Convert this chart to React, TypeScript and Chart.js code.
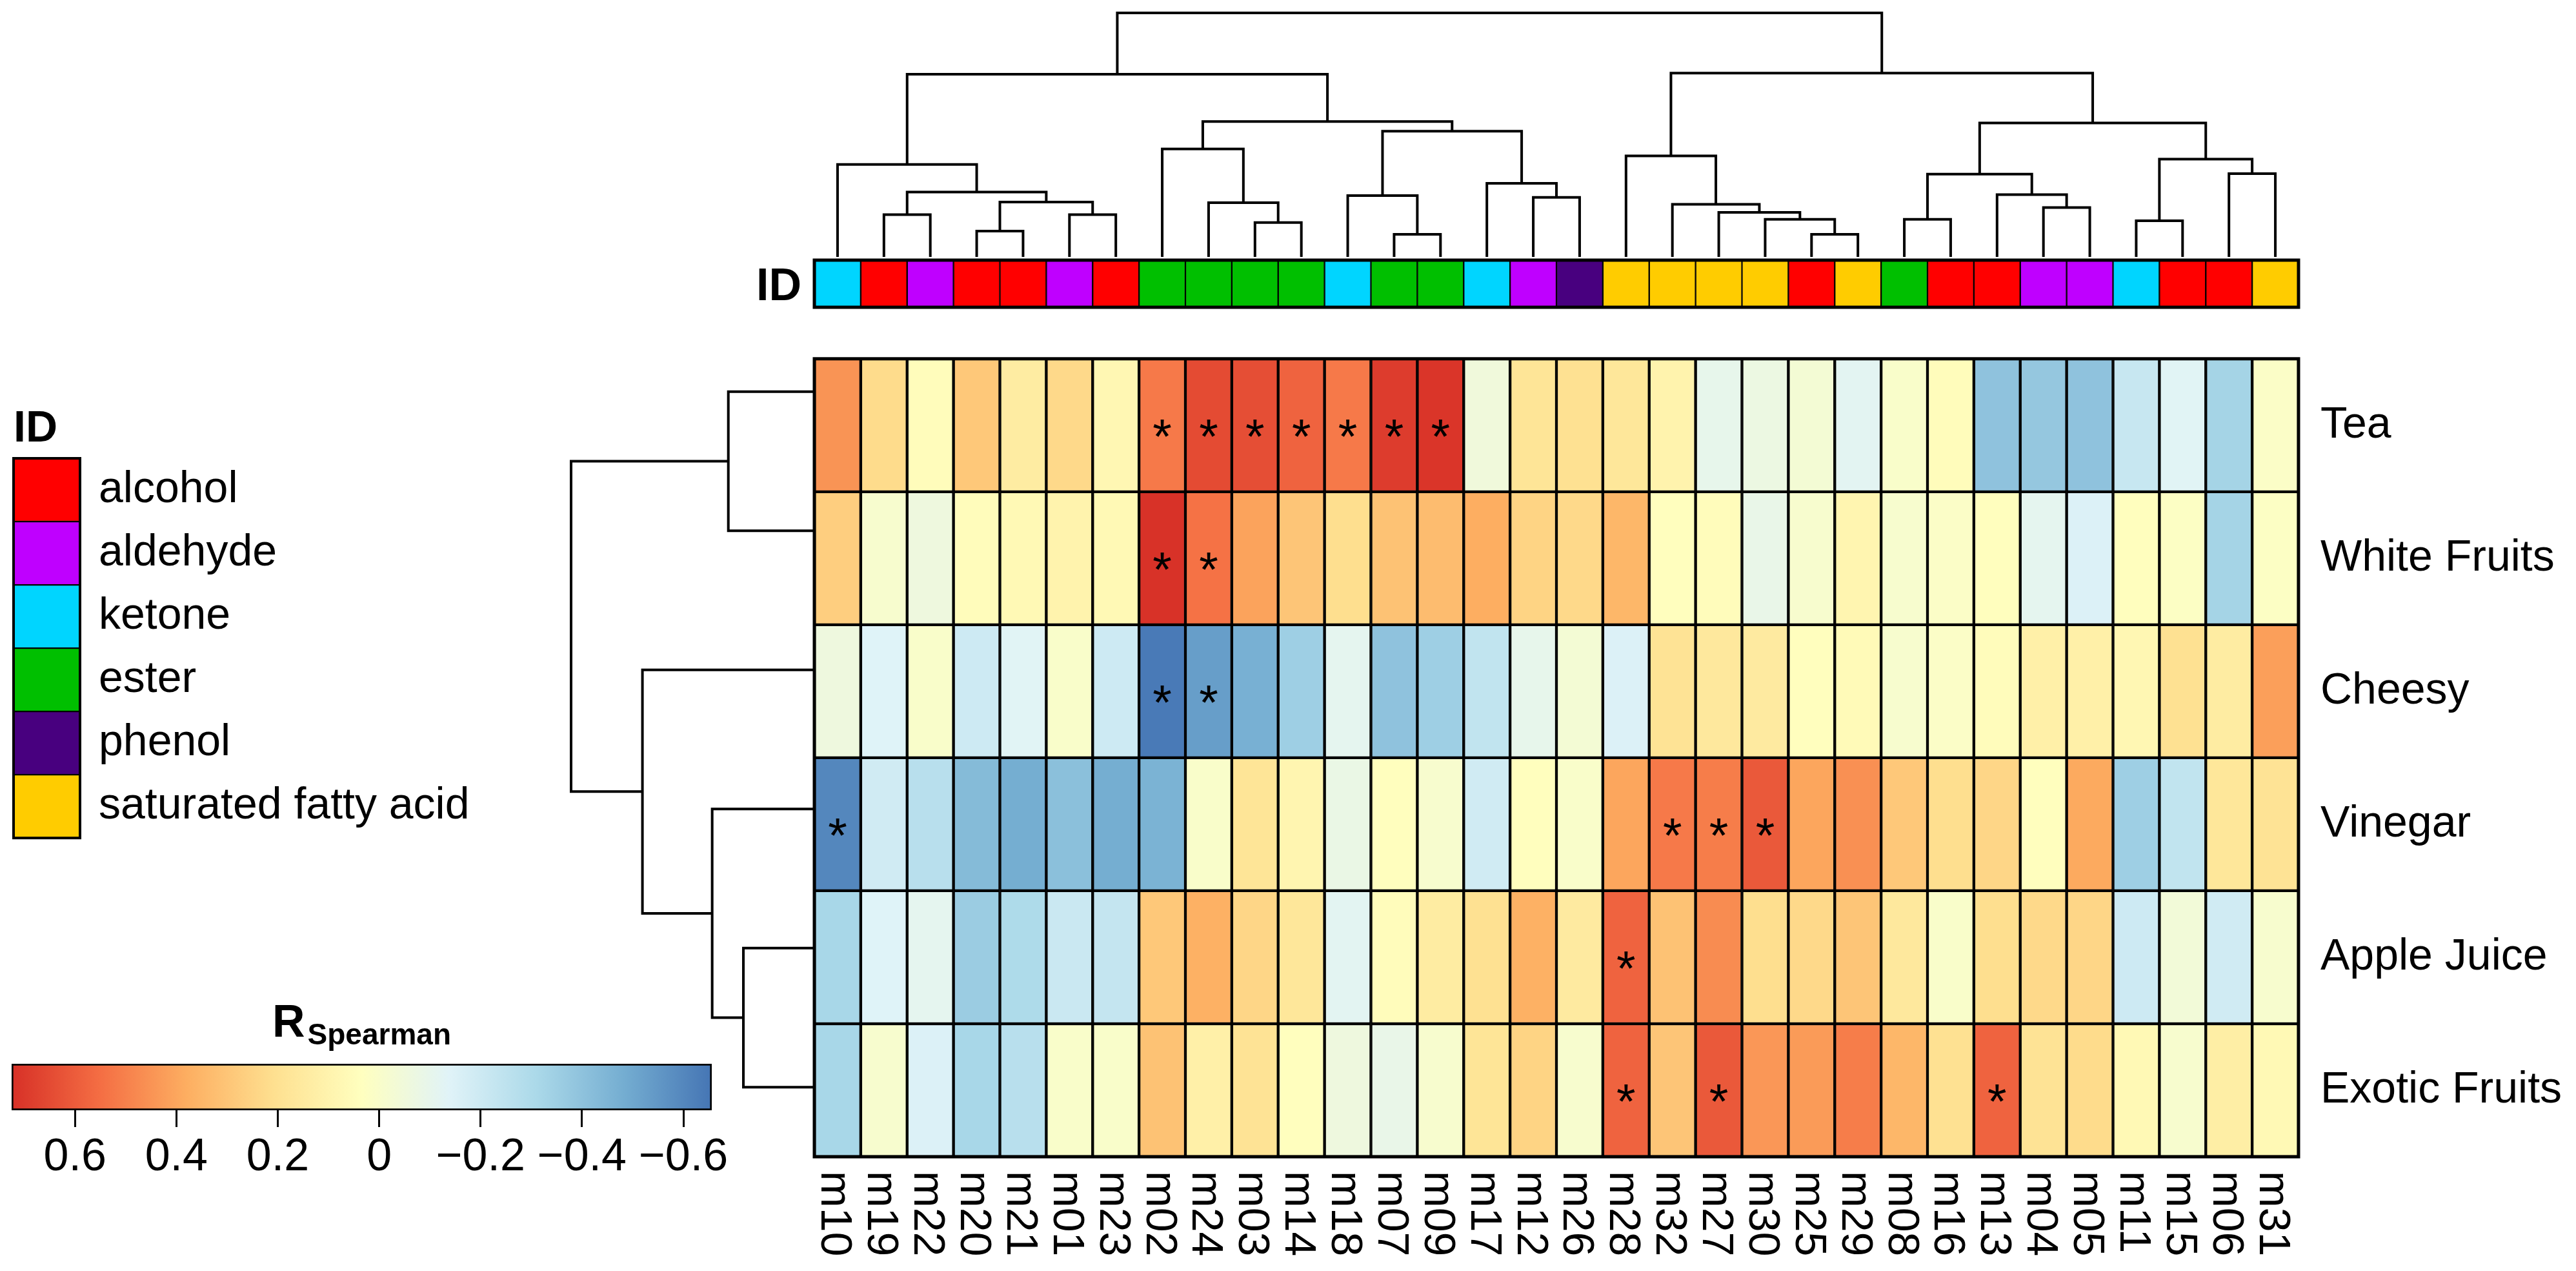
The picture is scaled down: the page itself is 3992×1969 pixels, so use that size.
import React, { useEffect, useRef } from 'react';
import { Chart, registerables } from 'chart.js';

Chart.register(...registerables);

const FONT = "'Liberation Sans', Arial, Helvetica, sans-serif";
Chart.defaults.font.family = FONT;
Chart.defaults.color = '#000';

// ---------------- data ----------------
const COLUMNS = ['m10', 'm19', 'm22', 'm20', 'm21', 'm01', 'm23', 'm02', 'm24', 'm03', 'm14', 'm18', 'm07', 'm09', 'm17', 'm12',
  'm26', 'm28', 'm32', 'm27', 'm30', 'm25', 'm29', 'm08', 'm16', 'm13', 'm04', 'm05', 'm11', 'm15', 'm06', 'm31'];

const COLUMN_CLASS = ['ketone', 'alcohol', 'aldehyde', 'alcohol', 'alcohol', 'aldehyde', 'alcohol', 'ester', 'ester', 'ester', 'ester', 'ketone', 'ester', 'ester', 'ketone', 'aldehyde',
  'phenol', 'saturated fatty acid', 'saturated fatty acid', 'saturated fatty acid', 'saturated fatty acid', 'alcohol', 'saturated fatty acid', 'ester', 'alcohol', 'alcohol', 'aldehyde', 'aldehyde', 'ketone', 'alcohol', 'alcohol', 'saturated fatty acid'];

const ROWS = ['Tea', 'White Fruits', 'Cheesy', 'Vinegar', 'Apple Juice', 'Exotic Fruits'];

const TEA = [0.45, 0.22, 0.05, 0.29, 0.14, 0.23, 0.08, 0.52, 0.65, 0.64, 0.58, 0.52, 0.69, 0.71, -0.05, 0.18,
  0.20, 0.17, 0.10, -0.10, -0.07, -0.03, -0.12, 0.00, 0.05, -0.40, -0.38, -0.40, -0.22, -0.13, -0.33, 0.01];
const WHITE_FRUITS = [0.27, -0.01, -0.06, 0.05, 0.07, 0.10, 0.07, 0.72, 0.54, 0.41, 0.30, 0.21, 0.31, 0.33, 0.38, 0.25,
  0.23, 0.35, 0.04, 0.05, -0.09, -0.01, 0.09, -0.01, 0.01, 0.04, -0.11, -0.15, 0.04, 0.02, -0.33, 0.02];
const CHEESY = [-0.06, -0.14, 0.00, -0.20, -0.13, 0.00, -0.20, -0.64, -0.53, -0.47, -0.35, -0.11, -0.40, -0.35, -0.24, -0.10,
  -0.03, -0.15, 0.19, 0.16, 0.15, 0.04, 0.06, -0.01, 0.01, 0.05, 0.12, 0.12, 0.08, 0.20, 0.14, 0.42];
const VINEGAR = [-0.60, -0.19, -0.27, -0.43, -0.48, -0.41, -0.48, -0.46, 0.00, 0.18, 0.09, -0.08, 0.04, -0.01, -0.19, 0.04,
  0.00, 0.40, 0.52, 0.51, 0.61, 0.40, 0.46, 0.29, 0.21, 0.24, 0.04, 0.39, -0.35, -0.24, 0.17, 0.19];
const APPLE_JUICE = [-0.32, -0.14, -0.11, -0.36, -0.30, -0.21, -0.23, 0.29, 0.37, 0.24, 0.17, -0.12, 0.05, 0.14, 0.20, 0.37,
  0.15, 0.58, 0.31, 0.47, 0.21, 0.23, 0.30, 0.16, 0.00, 0.21, 0.23, 0.24, -0.20, -0.04, -0.19, -0.01];
const EXOTIC_FRUITS = [-0.32, -0.01, -0.15, -0.32, -0.27, 0.00, 0.00, 0.31, 0.12, 0.19, 0.04, -0.06, -0.09, -0.01, 0.18, 0.25,
  -0.01, 0.58, 0.30, 0.61, 0.44, 0.43, 0.51, 0.35, 0.20, 0.58, 0.19, 0.22, 0.07, -0.01, 0.13, 0.07];
const ROW_VALUES = [TEA, WHITE_FRUITS, CHEESY, VINEGAR, APPLE_JUICE, EXOTIC_FRUITS];

// significant correlations (asterisks)
const SIG_TEA = ['m02', 'm24', 'm03', 'm14', 'm18', 'm07', 'm09'];
const SIG_WHITE_FRUITS = ['m02', 'm24'];
const SIG_CHEESY = ['m02', 'm24'];
const SIG_VINEGAR = ['m10', 'm32', 'm27', 'm30'];
const SIG_APPLE_JUICE = ['m28'];
const SIG_EXOTIC_FRUITS = ['m28', 'm27', 'm13'];
const ROW_SIG = [SIG_TEA, SIG_WHITE_FRUITS, SIG_CHEESY, SIG_VINEGAR, SIG_APPLE_JUICE, SIG_EXOTIC_FRUITS];

const CLASS_NAMES = ['alcohol', 'aldehyde', 'ketone', 'ester', 'phenol', 'saturated fatty acid'];
const CLASS_COLORS = ['#ff0000', '#bf00ff', '#00d5ff', '#00bf00', '#48007f', '#ffcc00'];

const COLORBAR_TICKS = [0.6, 0.4, 0.2, 0, -0.2, -0.4, -0.6];
const COLOR_MAX = 0.725;
const COLOR_MIN = -0.656;
const PALETTE = ['#d73027', '#f46d43', '#fdae61', '#fee090', '#ffffbf', '#e0f3f8', '#abd9e9', '#74add1', '#4575b4'];

// column dendrogram (hclust style: negative = leaf position, positive = earlier merge)
const COL_MERGE_A = [-2, -4, -6, 2, 1, -1, -10, -9, -8, -13, -12, -16, -15, 11, 9, 6, -22, -21, -20, -19, -18, -24, -27, -26, 22, -29, -31, 26, 25, 21, 16];
const COL_MERGE_B = [-3, -5, -7, 3, 4, 5, -11, 7, 8, -14, 10, -17, 12, 13, 14, 15, -23, 17, 18, 19, 20, -25, -28, 23, 24, -30, -32, 27, 28, 29, 30];
const COL_MERGE_H = [197, 120, 197, 255, 302, 430, 160, 252, 502, 105, 285, 277, 342, 585, 630, 850, 105, 175, 207, 245, 470, 175, 230, 290, 385, 168, 387, 455, 623, 855, 1135];

// row dendrogram
const ROW_MERGE_A = [-1, -5, -4, -3, 1];
const ROW_MERGE_B = [-2, -6, 2, 3, 4];
const ROW_MERGE_H = [132.6, 109.4, 157.5, 265, 375];

// ---------------- helpers ----------------
function hexToRgb(h: string) {
  const n = parseInt(h.slice(1), 16);
  return [(n >> 16) & 255, (n >> 8) & 255, n & 255];
}
function colorFor(v: number) {
  let t = (COLOR_MAX - v) / (COLOR_MAX - COLOR_MIN);
  t = Math.min(1, Math.max(0, t));
  const seg = t * (PALETTE.length - 1);
  const i = Math.min(PALETTE.length - 2, Math.floor(seg));
  const f = seg - i;
  const a = hexToRgb(PALETTE[i]);
  const b = hexToRgb(PALETTE[i + 1]);
  const c = a.map((x, k) => Math.round(x + (b[k] - x) * f));
  return `rgb(${c[0]},${c[1]},${c[2]})`;
}

type Pt = { p: number; h: number };
function dendroSegments(a: number[], b: number[], h: number[]) {
  const pos: number[] = [];
  const hh: number[] = [];
  const coord = (k: number): Pt => (k < 0 ? { p: -k - 0.5, h: 0 } : { p: pos[k - 1], h: hh[k - 1] });
  const segs: Pt[][] = [];
  for (let i = 0; i < a.length; i++) {
    const L = coord(a[i]);
    const R = coord(b[i]);
    pos.push((L.p + R.p) / 2);
    hh.push(h[i]);
    segs.push([{ p: L.p, h: L.h }, { p: L.p, h: h[i] }, { p: R.p, h: h[i] }, { p: R.p, h: R.h }]);
  }
  return segs;
}

const framePlugin = (width: number) => ({
  id: 'frame',
  afterDatasetsDraw(chart: any) {
    const { ctx, chartArea: a } = chart;
    ctx.save();
    ctx.strokeStyle = '#000';
    ctx.lineWidth = width;
    ctx.strokeRect(a.left, a.top, a.right - a.left, a.bottom - a.top);
    ctx.restore();
  },
});

// ---------------- chart configs ----------------
function heatmapConfig(): any {
  const datasets = ROWS.map((name, r) => ({
    label: name,
    data: COLUMNS.map(() => 1),
    backgroundColor: ROW_VALUES[r].map(colorFor),
    borderColor: '#000',
    borderWidth: 2.5,
    borderSkipped: false,
    barPercentage: 1,
    categoryPercentage: 1,
    stack: 'cells',
  })).reverse();
  const n = ROWS.length;
  return {
    type: 'bar',
    data: { labels: COLUMNS, datasets },
    options: {
      animation: false,
      responsive: false,
      layout: { padding: { left: 10, top: 10, right: 0, bottom: 177 } },
      plugins: { legend: { display: false }, tooltip: { enabled: false } },
      scales: {
        x: { display: false, stacked: true },
        y: {
          stacked: true, min: 0, max: n, position: 'right',
          grid: { display: false }, border: { display: false },
          afterBuildTicks: (axis: any) => { axis.ticks = ROWS.map((_, r) => ({ value: n - r - 0.5 })); },
          afterFit: (axis: any) => { axis.width = 430; },
          ticks: {
            autoSkip: false, padding: 26, color: '#000', font: { size: 68, family: FONT },
            callback: (v: any) => ROWS[Math.round(n - 0.5 - Number(v))],
          },
        },
      },
    },
    plugins: [
      framePlugin(5),
      {
        id: 'marks',
        afterDatasetsDraw(chart: any) {
          const { ctx, scales: { x, y }, chartArea } = chart;
          ctx.save();
          ctx.fillStyle = '#000';
          const fs = 76;
          ctx.font = `${fs}px ${FONT}`;
          ctx.textAlign = 'center';
          ctx.textBaseline = 'alphabetic';
          ROW_SIG.forEach((list, r) => {
            list.forEach((col) => {
              const c = COLUMNS.indexOf(col);
              const px = x.getPixelForValue(c);
              const py = y.getPixelForValue(n - r - 0.5);
              ctx.fillText('*', px, py + 0.57 * fs);
            });
          });
          // column labels, rotated clockwise
          const lf = 68;
          ctx.font = `${lf}px ${FONT}`;
          ctx.textAlign = 'left';
          COLUMNS.forEach((lab, i) => {
            const px = x.getPixelForValue(i);
            ctx.save();
            ctx.translate(px, chartArea.bottom + 22);
            ctx.rotate(Math.PI / 2);
            ctx.fillText(lab, 0, 0.36 * lf);
            ctx.restore();
          });
          ctx.restore();
        },
      },
    ],
  };
}

function idBarConfig(): any {
  return {
    type: 'bar',
    data: {
      labels: COLUMNS,
      datasets: [{
        data: COLUMNS.map(() => 1),
        backgroundColor: COLUMN_CLASS.map((c) => CLASS_COLORS[CLASS_NAMES.indexOf(c)]),
        borderColor: '#000', borderWidth: 1.5, borderSkipped: false,
        barPercentage: 1, categoryPercentage: 1,
      }],
    },
    options: {
      animation: false, responsive: false,
      layout: { padding: { left: 162, right: 18, top: 13, bottom: 14 } },
      plugins: { legend: { display: false }, tooltip: { enabled: false } },
      scales: { x: { display: false }, y: { display: false, min: 0, max: 1 } },
    },
    plugins: [
      framePlugin(5),
      {
        id: 'idLabel',
        afterDraw(chart: any) {
          const { ctx, chartArea: a } = chart;
          const fs = 70;
          ctx.save();
          ctx.font = `bold ${fs}px ${FONT}`;
          ctx.fillStyle = '#000';
          ctx.textAlign = 'right';
          ctx.textBaseline = 'alphabetic';
          ctx.fillText('ID', a.left - 20, (a.top + a.bottom) / 2 + 0.358 * fs);
          ctx.restore();
        },
      },
    ],
  };
}

function topDendroConfig(): any {
  const segs = dendroSegments(COL_MERGE_A, COL_MERGE_B, COL_MERGE_H);
  return {
    type: 'scatter',
    data: {
      datasets: segs.map((s) => ({
        data: s.map((q) => ({ x: q.p, y: q.h })),
        showLine: true, borderColor: '#000', borderWidth: 4, pointRadius: 0, clip: false,
        borderJoinStyle: 'miter', borderCapStyle: 'butt',
      })),
    },
    options: {
      animation: false, responsive: false,
      layout: { padding: { left: 10, right: 10, top: 20, bottom: 12 } },
      plugins: { legend: { display: false }, tooltip: { enabled: false } },
      scales: {
        x: { type: 'linear', display: false, min: 0, max: COLUMNS.length },
        y: { type: 'linear', display: false, min: 0, max: Math.max(...COL_MERGE_H) },
      },
    },
  };
}

function rowDendroConfig(): any {
  const segs = dendroSegments(ROW_MERGE_A, ROW_MERGE_B, ROW_MERGE_H);
  return {
    type: 'scatter',
    data: {
      datasets: segs.map((s) => ({
        data: s.map((q) => ({ x: q.h, y: q.p })),
        showLine: true, borderColor: '#000', borderWidth: 4, pointRadius: 0, clip: false,
        borderJoinStyle: 'miter', borderCapStyle: 'butt',
      })),
    },
    options: {
      animation: false, responsive: false,
      layout: { padding: { left: 15, right: 8, top: 10, bottom: 10 } },
      plugins: { legend: { display: false }, tooltip: { enabled: false } },
      scales: {
        x: { type: 'linear', display: false, min: 0, max: Math.max(...ROW_MERGE_H), reverse: true },
        y: { type: 'linear', display: false, min: 0, max: ROWS.length, reverse: true },
      },
    },
  };
}

function colorbarConfig(): any {
  return {
    type: 'bar',
    data: {
      labels: [''],
      datasets: [{
        data: [[COLOR_MIN, COLOR_MAX]],
        backgroundColor: (c: any) => {
          const chart = c.chart;
          const xs = chart.scales && chart.scales.x;
          if (!xs || !chart.chartArea) return PALETTE[4];
          const x0 = xs.getPixelForValue(COLOR_MAX);
          const x1 = xs.getPixelForValue(COLOR_MIN);
          const g = chart.ctx.createLinearGradient(x0, 0, x1, 0);
          PALETTE.forEach((col, i) => g.addColorStop(i / (PALETTE.length - 1), col));
          return g;
        },
        borderColor: '#000', borderWidth: 3, borderSkipped: false,
        barPercentage: 1, categoryPercentage: 1,
      }],
    },
    options: {
      indexAxis: 'y',
      animation: false, responsive: false,
      layout: { padding: { left: 18, right: 57, top: 108, bottom: 0 } },
      plugins: { legend: { display: false }, tooltip: { enabled: false } },
      scales: {
        y: { display: false },
        x: {
          type: 'linear', min: COLOR_MIN, max: COLOR_MAX, reverse: true,
          border: { display: false },
          grid: { drawOnChartArea: false, drawTicks: true, tickLength: 26, color: '#000', lineWidth: 3 },
          afterBuildTicks: (axis: any) => { axis.ticks = COLORBAR_TICKS.map((v) => ({ value: v })); },
          afterFit: (axis: any) => { axis.height = 249; },
          ticks: {
            autoSkip: false, maxRotation: 0, minRotation: 0, padding: 6, color: '#000',
            font: { size: 70, family: FONT },
            callback: (v: any) => {
              const n = Number(v);
              if (Math.abs(n) < 1e-9) return '0';
              return n < 0 ? '\u2212' + Math.abs(n).toFixed(1) : n.toFixed(1);
            },
          },
        },
      },
    },
    plugins: [{
      id: 'cbTitle',
      afterDraw(chart: any) {
        const { ctx, chartArea: a } = chart;
        ctx.save();
        ctx.fillStyle = '#000';
        ctx.textBaseline = 'alphabetic';
        ctx.textAlign = 'left';
        const big = `bold 70px ${FONT}`;
        const small = `bold 46px ${FONT}`;
        ctx.font = big;
        const wR = ctx.measureText('R').width;
        ctx.font = small;
        const wS = ctx.measureText('Spearman').width;
        const x0 = (a.left + a.right) / 2 - (wR + wS + 4) / 2;
        ctx.font = big;
        ctx.fillText('R', x0, a.top - 42);
        ctx.font = small;
        ctx.fillText('Spearman', x0 + wR + 4, a.top - 30);
        ctx.restore();
      },
    }],
  };
}

function legendConfig(): any {
  return {
    type: 'bar',
    data: {
      labels: CLASS_NAMES,
      datasets: [{
        data: CLASS_NAMES.map(() => 1),
        backgroundColor: CLASS_COLORS,
        borderColor: '#000', borderWidth: 1.5, borderSkipped: false,
        barPercentage: 1, categoryPercentage: 1,
      }],
    },
    options: {
      indexAxis: 'y',
      animation: false, responsive: false,
      layout: { padding: { left: 21, right: 0, top: 110, bottom: 30 } },
      plugins: { legend: { display: false }, tooltip: { enabled: false } },
      scales: {
        x: { display: false, min: 0, max: 1 },
        y: {
          type: 'category', position: 'right',
          grid: { display: false }, border: { display: false },
          afterFit: (axis: any) => { axis.width = 876; },
          ticks: { padding: 21, color: '#000', font: { size: 68, family: FONT } },
        },
      },
    },
    plugins: [
      framePlugin(4),
      {
        id: 'legendTitle',
        afterDraw(chart: any) {
          const { ctx, chartArea: a } = chart;
          ctx.save();
          ctx.fillStyle = '#000';
          ctx.font = `bold 68px ${FONT}`;
          ctx.textAlign = 'left';
          ctx.textBaseline = 'alphabetic';
          ctx.fillText('ID', a.left, a.top - 26);
          ctx.restore();
        },
      },
    ],
  };
}

// ---------------- components ----------------
function ChartBox(props: { left: number; top: number; width: number; height: number; make: () => any }) {
  const ref = useRef<HTMLCanvasElement>(null);
  useEffect(() => {
    const chart = new Chart(ref.current as HTMLCanvasElement, props.make());
    return () => chart.destroy();
  }, []);
  return (
    <canvas
      ref={ref}
      width={props.width}
      height={props.height}
      style={{ position: 'absolute', left: props.left, top: props.top, width: props.width, height: props.height }}
    />
  );
}

export default function App() {
  return (
    <div style={{ position: 'absolute', left: 0, top: 0, width: 3992, height: 1969, background: '#fff', overflow: 'hidden' }}>
      <ChartBox left={1252} top={0} width={2320} height={410} make={topDendroConfig} />
      <ChartBox left={1100} top={390} width={2480} height={100} make={idBarConfig} />
      <ChartBox left={870} top={489} width={400} height={1313} make={rowDendroConfig} />
      <ChartBox left={1252} top={489} width={2740} height={1480} make={heatmapConfig} />
      <ChartBox left={0} top={600} width={1000} height={760} make={legendConfig} />
      <ChartBox left={0} top={1540} width={1160} height={429} make={colorbarConfig} />
    </div>
  );
}
